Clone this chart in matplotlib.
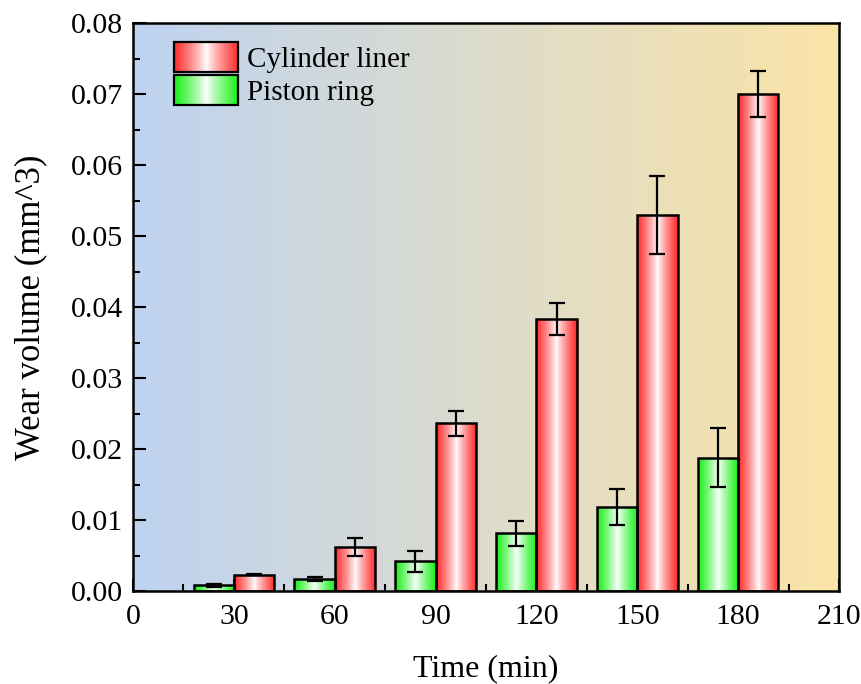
import numpy as np
import matplotlib
matplotlib.use("Agg")
import matplotlib.pyplot as plt
from matplotlib.legend_handler import HandlerBase
from matplotlib.image import BboxImage
from matplotlib.transforms import Bbox, TransformedBbox
from matplotlib.patches import Rectangle

plt.rcParams['font.family'] = ['Liberation Serif', 'DejaVu Serif']

times = [30, 60, 90, 120, 150, 180]
liner = [0.0023, 0.0062, 0.0236, 0.0383, 0.0529, 0.0700]
liner_err = [0.0001, 0.0012, 0.0018, 0.0023, 0.0055, 0.0032]
ring = [0.0008, 0.0017, 0.0042, 0.0081, 0.0118, 0.0188]
ring_err = [0.0002, 0.0003, 0.0015, 0.0018, 0.0025, 0.0041]
labels = ["Cylinder liner", "Piston ring"]

RED = np.array([255, 40, 40]) / 255
GREEN = np.array([20, 240, 20]) / 255
BG_LEFT = np.array([190, 211, 241]) / 255
BG_RIGHT = np.array([251, 228, 166]) / 255


def grad_array(color, n=200):
    x = np.linspace(0, 1, n)
    w = np.abs(2 * x - 1) ** 0.85
    arr = 1 - w[:, None] * (1 - color[None, :])
    return arr[None, :, :]


fig = plt.figure(figsize=(8.62, 6.84), dpi=100)
ax = fig.add_axes([133 / 862, 1 - 591 / 684, (839 - 133) / 862, (591 - 23) / 684])

xmin, xmax, ymin, ymax = 0, 210, 0, 0.08
ax.set_xlim(xmin, xmax)
ax.set_ylim(ymin, ymax)

# background gradient
t = np.linspace(0, 1, 400)
bg = BG_LEFT[None, :] * (1 - t[:, None]) + BG_RIGHT[None, :] * t[:, None]
ax.imshow(bg[None, :, :], extent=[xmin, xmax, ymin, ymax], aspect='auto', zorder=0)

width = 12
def draw_bars(xs, vals, errs, color):
    bars = ax.bar(xs, vals, width=width, align='edge', facecolor='none',
                  edgecolor='black', linewidth=1.8, zorder=3)
    for b in bars:
        x0, y0 = b.get_x(), b.get_y()
        w, h = b.get_width(), b.get_height()
        im = ax.imshow(grad_array(color), extent=[x0, x0 + w, y0, y0 + h],
                       aspect='auto', zorder=2, interpolation='bilinear')
        im.set_clip_path(b)
    ax.errorbar(np.array(xs) + width / 2, vals, yerr=errs, fmt='none', ecolor='black',
                elinewidth=1.6, capsize=6, capthick=1.6, zorder=4)
    return bars

b_ring = draw_bars(np.array(times) - width, ring, ring_err, GREEN)
b_liner = draw_bars(np.array(times), liner, liner_err, RED)
ax.set_xlim(xmin, xmax)
ax.set_ylim(ymin, ymax)


class GradHandler(HandlerBase):
    def __init__(self, color):
        super().__init__()
        self.color = color

    def create_artists(self, legend, orig_handle, xdescent, ydescent, width, height, fontsize, trans):
        bb = Bbox.from_bounds(-xdescent, -ydescent, width, height)
        img = BboxImage(TransformedBbox(bb, trans), interpolation='bilinear')
        img.set_data(grad_array(self.color))
        rect = Rectangle((-xdescent, -ydescent), width, height, facecolor='none',
                         edgecolor='black', linewidth=1.6, transform=trans)
        return [img, rect]


h1 = Rectangle((0, 0), 1, 1)
h2 = Rectangle((0, 0), 1, 1)
ax.legend([h1, h2], labels, handler_map={h1: GradHandler(RED), h2: GradHandler(GREEN)},
          loc='upper left', bbox_to_anchor=(0.033, 0.997), frameon=False, fontsize=21,
          handlelength=2.2, handleheight=1.2, labelspacing=0.06, handletextpad=0.3,
          borderaxespad=0.2)

ax.set_xticks(range(0, 211, 30))
ax.set_xticks(range(15, 211, 30), minor=True)
ax.set_yticks(np.arange(0, 0.0801, 0.01))
ax.set_yticks(np.arange(0.005, 0.08, 0.01), minor=True)
ax.yaxis.set_major_formatter(matplotlib.ticker.FormatStrFormatter('%.2f'))
ax.tick_params(which='both', direction='in', top=False, right=False, labelsize=21.5,
               width=1.5)
ax.tick_params(axis='x', pad=9)
ax.tick_params(axis='y', pad=7)
ax.tick_params(which='major', length=9)
ax.tick_params(which='minor', length=5)
for s in ax.spines.values():
    s.set_linewidth(1.8)
    s.set_zorder(5)

ax.set_xlabel("Time (min)", fontsize=23, labelpad=18)
ax.set_ylabel("Wear volume (mm^3)", fontsize=25, labelpad=17)

fig.savefig("out.png", dpi=100)
